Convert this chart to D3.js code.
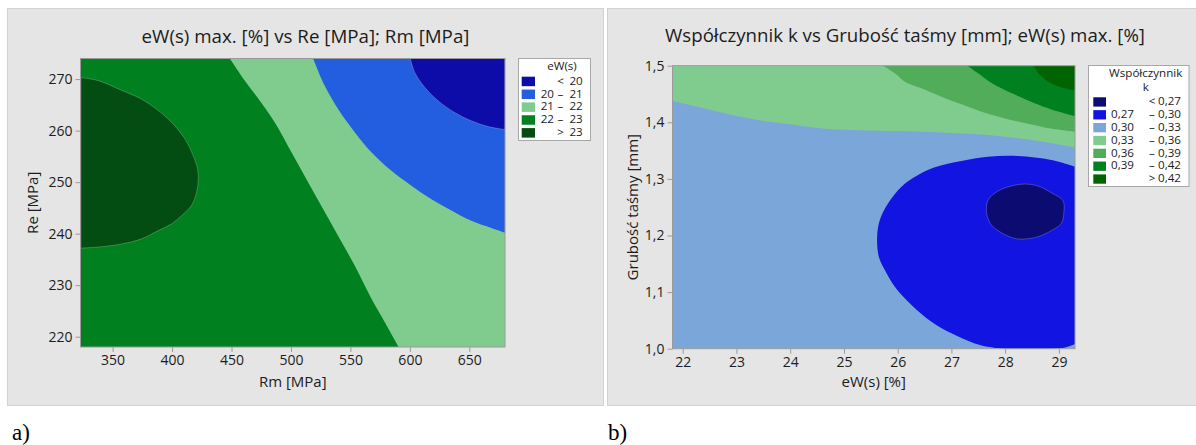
<!DOCTYPE html>
<html>
<head>
<meta charset="utf-8">
<script src="https://cdn.jsdelivr.net/npm/d3@7"></script>
<style>
  html, body { margin: 0; padding: 0; background: #ffffff; }
  svg { display: block; font-family: "Open Sans", "Noto Sans", sans-serif; }
</style>
</head>
<body>
<svg id="fig" width="1196" height="445"></svg>
<script>
// ---------- Panel a: eW(s) max. [%] as a function of Rm and Re ----------
const aRmDomain = [323, 680];
const aReDomain = [218, 274];
const aRmTicks = [350, 400, 450, 500, 550, 600, 650];
const aReTicks = [220, 230, 240, 250, 260, 270];
const aBreaks = ["20", "21", "22", "23"];
const aColors = ["#0d0ca8", "#235ee0", "#80cc8f", "#00801e", "#034d12"];

// contour lines [Rm, Re]
const aLine23 = [[323.4, 270.3], [338.0, 269.7], [354.8, 268.1], [374.4, 266.1], [388.4, 263.9],
  [399.6, 261.6], [410.8, 258.4], [417.8, 255.1], [421.4, 252.6], [422.0, 250.3], [420.6, 248.0],
  [416.4, 245.5], [408.0, 243.5], [399.6, 241.9], [388.4, 240.6], [374.4, 239.0], [357.6, 238.0],
  [338.0, 237.4], [323.4, 237.2]];
const aLine22 = [[448.6, 274.0], [461.2, 269.7], [473.8, 265.8], [486.4, 261.6], [500.4, 255.8],
  [514.4, 250.0], [527.0, 244.8], [539.6, 239.6], [553.6, 233.8], [567.6, 227.4], [578.9, 222.8],
  [590.6, 218.0]];
const aLine21 = [[518.6, 274.0], [528.4, 268.7], [539.6, 264.2], [553.6, 259.7], [567.6, 255.8],
  [584.5, 252.2], [601.3, 249.3], [618.1, 246.7], [634.9, 244.5], [651.7, 242.5], [668.5, 241.1],
  [680.0, 240.2]];
const aLine20 = [[600.4, 274.0], [604.1, 271.3], [612.5, 268.4], [623.7, 265.8], [637.7, 263.5],
  [651.7, 261.9], [665.7, 260.8], [680.0, 260.2]];

// ---------- Panel b: Współczynnik k as a function of eW(s) and thickness ----------
const bEwDomain = [21.81, 29.3];
const bThDomain = [1.0, 1.5];
const bEwTicks = [22, 23, 24, 25, 26, 27, 28, 29];
const bThTicks = [1.0, 1.1, 1.2, 1.3, 1.4, 1.5];
const bBreaks = ["0,27", "0,30", "0,33", "0,36", "0,39", "0,42"];
const bColors = ["#0b0b72", "#1214e2", "#7ba6d9", "#80cc8f", "#52ad5a", "#00801e", "#006400"];

// contour lines [eW, thickness]
const bLine27 = [[27.651, 1.2450], [27.682, 1.2627], [27.867, 1.2786], [28.115, 1.2874], [28.363, 1.2909],
  [28.611, 1.2874], [28.859, 1.2756], [29.076, 1.2615], [29.094, 1.2420], [29.045, 1.2214],
  [28.859, 1.2085], [28.611, 1.1979], [28.363, 1.1938], [28.177, 1.1949], [27.929, 1.2049],
  [27.744, 1.2185], [27.669, 1.2332]];
const bLine30 = [[29.30, 1.3216], [28.859, 1.3333], [28.239, 1.3404], [27.682, 1.3392], [27.186, 1.3316],
  [26.690, 1.3204], [26.380, 1.3068], [26.071, 1.2862], [25.823, 1.2568], [25.668, 1.2273],
  [25.618, 1.1979], [25.649, 1.1625], [25.761, 1.1390], [25.947, 1.1095], [26.257, 1.0772],
  [26.628, 1.0477], [27.000, 1.0271], [27.434, 1.0094], [27.744, 1.0024], [27.929, 1.0],
  [28.921, 1.0], [29.169, 1.0035], [29.30, 1.0082]];
const bLine33 = [[21.81, 1.4376], [22.353, 1.4258], [22.880, 1.4140], [23.406, 1.4040], [23.964, 1.3969],
  [24.460, 1.3905], [25.017, 1.3869], [25.575, 1.3852], [26.071, 1.3846], [26.628, 1.3828],
  [27.186, 1.3804], [27.682, 1.3775], [28.239, 1.3716], [28.735, 1.3651], [29.30, 1.3554]];
const bLine36 = [[25.730, 1.5], [25.947, 1.4865], [26.133, 1.4717], [26.442, 1.4600], [26.814, 1.4452],
  [27.186, 1.4317], [27.558, 1.4187], [27.929, 1.4087], [28.301, 1.3999], [28.735, 1.3910],
  [29.30, 1.3834]];
const bLine39 = [[27.297, 1.5], [27.496, 1.4865], [27.682, 1.4735], [27.929, 1.4600], [28.239, 1.4464],
  [28.549, 1.4335], [28.859, 1.4228], [29.30, 1.4111]];
const bLine42 = [[28.537, 1.5], [28.611, 1.4876], [28.735, 1.4759], [28.921, 1.4658], [29.107, 1.4600],
  [29.30, 1.4558]];

const svg = d3.select("#fig");
const ink = "#1c1c1c";
const axisGrey = "#9a9a9a";
const legendFont = 11.6;

// grey panel backgrounds
function panel(x, y, w, h) {
  svg.append("rect").attr("x", x).attr("y", y).attr("width", w).attr("height", h)
    .attr("fill", "#e5e5e5").attr("stroke", "#d2d2d2").attr("stroke-width", 1);
}
panel(7.5, 8.5, 596, 397);
panel(607.5, 8.5, 600, 397);

function fitTitle(sel, width) {
  const len = sel.node().getComputedTextLength();
  const fs = parseFloat(sel.attr("font-size"));
  sel.attr("font-size", (fs * width / len).toFixed(2));
}

function contourPanel(cfg) {
  const x = d3.scaleLinear().domain(cfg.xDomain).range([cfg.x0, cfg.x1]);
  const y = d3.scaleLinear().domain(cfg.yDomain).range([cfg.y1, cfg.y0]);
  const g = svg.append("g");

  const clipId = cfg.id + "-clip";
  svg.append("clipPath").attr("id", clipId).append("rect")
    .attr("x", cfg.x0).attr("y", cfg.y0).attr("width", cfg.x1 - cfg.x0).attr("height", cfg.y1 - cfg.y0);

  const fills = g.append("g").attr("clip-path", `url(#${clipId})`);
  fills.append("rect").attr("x", cfg.x0).attr("y", cfg.y0)
    .attr("width", cfg.x1 - cfg.x0).attr("height", cfg.y1 - cfg.y0).attr("fill", cfg.base);

  const open = d3.line().x(d => x(d[0])).y(d => y(d[1])).curve(d3.curveCatmullRom.alpha(0.5));
  const ring = d3.line().x(d => x(d[0])).y(d => y(d[1])).curve(d3.curveCatmullRomClosed.alpha(0.5));

  cfg.layers.forEach(L => {
    let p;
    if (L.ring) p = ring(L.pts);
    else {
      p = open(L.pts);
      (L.corners || []).forEach(c => { p += "L" + x(c[0]) + "," + y(c[1]); });
      p += "Z";
    }
    fills.append("path").attr("d", p).attr("fill", L.color)
      .attr("stroke", L.edge ? "rgba(255,255,255,0.28)" : "none").attr("stroke-width", 0.8);
  });

  // frame
  g.append("rect").attr("x", cfg.x0).attr("y", cfg.y0)
    .attr("width", cfg.x1 - cfg.x0).attr("height", cfg.y1 - cfg.y0)
    .attr("fill", "none").attr("stroke", axisGrey).attr("stroke-width", 1);

  // axes
  const xa = g.append("g").attr("transform", `translate(0,${cfg.y1})`)
    .call(d3.axisBottom(x).tickValues(cfg.xTicks).tickFormat(cfg.xFmt).tickSize(5).tickPadding(3));
  const ya = g.append("g").attr("transform", `translate(${cfg.x0},0)`)
    .call(d3.axisLeft(y).tickValues(cfg.yTicks).tickFormat(cfg.yFmt).tickSize(5).tickPadding(3));
  [xa, ya].forEach(a => {
    a.select(".domain").remove();
    a.selectAll(".tick line").attr("stroke", axisGrey);
    a.selectAll(".tick text").attr("fill", ink).attr("font-size", 14)
      .attr("font-family", '"Open Sans", sans-serif');
  });

  // labels
  g.append("text").attr("x", (cfg.x0 + cfg.x1) / 2).attr("y", 386.5)
    .attr("text-anchor", "middle").attr("fill", ink).attr("font-size", 15).text(cfg.xLabel);
  g.append("text").attr("transform", `translate(${cfg.yLabelX},${(cfg.y0 + cfg.y1) / 2}) rotate(-90)`)
    .attr("text-anchor", "middle").attr("fill", ink).attr("font-size", 15).text(cfg.yLabel);
  const t = g.append("text").attr("x", cfg.titleX).attr("y", cfg.titleY)
    .attr("text-anchor", "middle").attr("fill", ink).attr("font-size", 17).text(cfg.title);
  fitTitle(t, cfg.titleWidth);

  // legend
  const lg = cfg.legend;
  g.append("rect").attr("x", lg.x).attr("y", lg.y).attr("width", lg.w).attr("height", lg.h)
    .attr("fill", "#ffffff").attr("stroke", "#a8a8a8").attr("stroke-width", 1);
  lg.title.forEach((s, i) => {
    g.append("text").attr("x", lg.titleX).attr("y", lg.titleY[i]).attr("text-anchor", "middle")
      .attr("fill", ink).attr("font-size", legendFont).text(s);
  });
  const br = cfg.breaks, n = br.length;
  const rows = cfg.colors.map((c, i) => ({
    color: c,
    lo: i === 0 || i === n ? "" : br[i - 1],
    op: i === 0 ? "<" : (i === n ? ">" : "–"),
    hi: i === n ? br[n - 1] : br[i]
  }));
  rows.forEach((r, i) => {
    const sy = lg.rowY + i * lg.pitch;
    g.append("rect").attr("x", lg.swX).attr("y", sy).attr("width", lg.swW).attr("height", lg.swH)
      .attr("fill", r.color);
    const by = sy + lg.swH - 1.5;
    g.append("text").attr("x", lg.loX).attr("y", by).attr("fill", ink).attr("font-size", legendFont).text(r.lo);
    g.append("text").attr("x", lg.opX).attr("y", by).attr("text-anchor", "middle").attr("fill", ink)
      .attr("font-size", legendFont).text(r.op);
    g.append("text").attr("x", lg.hiX).attr("y", by).attr("text-anchor", "end").attr("fill", ink)
      .attr("font-size", legendFont).text(r.hi);
  });
}

contourPanel({
  id: "pa", x0: 80.5, x1: 505, y0: 58.5, y1: 347,
  xDomain: aRmDomain, yDomain: aReDomain, xTicks: aRmTicks, yTicks: aReTicks,
  xFmt: d3.format("d"), yFmt: d3.format("d"),
  base: aColors[3],
  layers: [
    { pts: aLine22, corners: [[aRmDomain[1], aReDomain[0]], [aRmDomain[1], aReDomain[1]]], color: aColors[2] },
    { pts: aLine21, corners: [[aRmDomain[1], aReDomain[1]]], color: aColors[1] },
    { pts: aLine20, corners: [[aRmDomain[1], aReDomain[1]]], color: aColors[0], edge: true },
    { pts: aLine23, corners: [], color: aColors[4], edge: true }
  ],
  title: "eW(s) max. [%] vs Re [MPa]; Rm [MPa]", titleX: 305.5, titleY: 42.7, titleWidth: 328,
  xLabel: "Rm [MPa]", yLabel: "Re [MPa]", yLabelX: 38,
  breaks: aBreaks, colors: aColors,
  legend: { x: 518.5, y: 58.5, w: 72, h: 82, title: ["eW(s)"], titleX: 562, titleY: [70],
    rowY: 76.7, pitch: 12.85, swX: 521.7, swW: 13.3, swH: 9.5, loX: 540.7, opX: 560.5, hiX: 582.7 }
});

contourPanel({
  id: "pb", x0: 672.5, x1: 1075, y0: 65.7, y1: 348.7,
  xDomain: bEwDomain, yDomain: bThDomain, xTicks: bEwTicks, yTicks: bThTicks,
  xFmt: d3.format("d"), yFmt: d => d3.format(".1f")(d).replace(".", ","),
  base: bColors[2],
  layers: [
    { pts: bLine33, corners: [[bEwDomain[1], bThDomain[1]], [bEwDomain[0], bThDomain[1]]], color: bColors[3] },
    { pts: bLine36, corners: [[bEwDomain[1], bThDomain[1]]], color: bColors[4] },
    { pts: bLine39, corners: [[bEwDomain[1], bThDomain[1]]], color: bColors[5] },
    { pts: bLine42, corners: [[bEwDomain[1], bThDomain[1]]], color: bColors[6] },
    { pts: bLine30, corners: [], color: bColors[1] },
    { pts: bLine27, ring: true, color: bColors[0], edge: true }
  ],
  title: "Współczynnik k vs Grubość taśmy [mm]; eW(s) max. [%]", titleX: 905, titleY: 41.7, titleWidth: 480,
  xLabel: "eW(s) [%]", yLabel: "Grubość taśmy [mm]", yLabelX: 637.5,
  breaks: bBreaks, colors: bColors,
  legend: { x: 1088.5, y: 65.5, w: 100.5, h: 121, title: ["Współczynnik", "k"], titleX: 1145.7, titleY: [77, 90.5],
    rowY: 97.3, pitch: 12.85, swX: 1093.3, swW: 12.7, swH: 9.3, loX: 1111, opX: 1152, hiX: 1181 }
});

// sub-figure captions
svg.append("text").attr("x", 12).attr("y", 440).attr("font-family", '"Liberation Serif", "Times New Roman", serif')
  .attr("font-size", 23).attr("fill", "#000").text("a)");
svg.append("text").attr("x", 608).attr("y", 440).attr("font-family", '"Liberation Serif", "Times New Roman", serif')
  .attr("font-size", 23).attr("fill", "#000").text("b)");
</script>
</body>
</html>
